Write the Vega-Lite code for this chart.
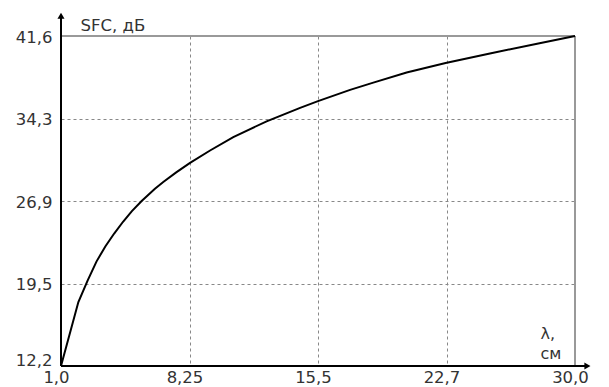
{
  "$schema": "https://vega.github.io/schema/vega-lite/v6.json",
  "width": 514,
  "height": 330,
  "autosize": {"type": "none"},
  "padding": {"left": 61, "top": 36, "right": 34, "bottom": 21},
  "background": "white",
  "config": {"view": {"stroke": null}, "font": "DejaVu Sans"},
  "datasets": {
    "curve": [
      {"x": 1.0, "y": 12.2}, {"x": 1.98, "y": 17.9}, {"x": 2.5, "y": 19.8}, {"x": 3.0, "y": 21.5},
      {"x": 3.5, "y": 22.85}, {"x": 4.0, "y": 24.0}, {"x": 4.5, "y": 25.05}, {"x": 5.0, "y": 26.0},
      {"x": 5.55, "y": 26.9}, {"x": 6.3, "y": 28.0}, {"x": 6.77, "y": 28.6}, {"x": 7.5, "y": 29.45},
      {"x": 8.28, "y": 30.3}, {"x": 9.41, "y": 31.4}, {"x": 10.72, "y": 32.6}, {"x": 12.6, "y": 34.0},
      {"x": 14.49, "y": 35.2}, {"x": 15.5, "y": 35.8}, {"x": 17.31, "y": 36.8}, {"x": 18.62, "y": 37.45},
      {"x": 20.5, "y": 38.35}, {"x": 22.7, "y": 39.2}, {"x": 25.2, "y": 40.05}, {"x": 28.0, "y": 40.95},
      {"x": 30.0, "y": 41.6}
    ],
    "frame": [
      {"x": 1, "x2": 30, "y": 41.6, "y2": 41.6},
      {"x": 30, "x2": 30, "y": 12.2, "y2": 41.6}
    ],
    "axes": [
      {"x": 1, "x2": 1, "y": 12.2, "y2": 43.4},
      {"x": 1, "x2": 30.7, "y": 12.2, "y2": 12.2}
    ],
    "arrows": [
      {"x": 1, "y": 43.4, "shape": "triangle-up"},
      {"x": 30.7, "y": 12.2, "shape": "triangle-right"}
    ]
  },
  "encoding": {
    "x": {
      "field": "x", "type": "quantitative",
      "scale": {"domain": [1, 30], "nice": false, "zero": false},
      "axis": {
        "values": [1, 8.25, 15.5, 22.75, 30],
        "labelExpr": "datum.value < 2 ? '1,0' : datum.value < 9 ? '8,25' : datum.value < 16 ? '15,5' : datum.value < 23 ? '22,7' : '30,0'",
        "domain": false, "ticks": false,
        "grid": true, "gridDash": [3, 3], "gridColor": "#888888", "gridWidth": 1,
        "labelFontSize": 16.5, "labelColor": "#333333", "labelPadding": 3, "labelOffset": -5,
        "labelFlush": false, "labelOverlap": false,
        "title": ["λ,", "см"], "titleFontSize": 16, "titleFontWeight": "normal", "titleColor": "#333333",
        "titleAlign": "left", "titleBaseline": "alphabetic", "titleX": 479, "titleY": -28, "titleLineHeight": 20
      }
    },
    "y": {
      "field": "y", "type": "quantitative",
      "scale": {"domain": [12.2, 41.6], "nice": false, "zero": false},
      "axis": {
        "values": [12.2, 19.55, 26.9, 34.25, 41.6],
        "labelExpr": "datum.value < 13 ? '12,2' : datum.value < 20 ? '19,5' : datum.value < 27 ? '26,9' : datum.value < 35 ? '34,3' : '41,6'",
        "domain": false, "ticks": false,
        "grid": true, "gridDash": [3, 3], "gridColor": "#888888", "gridWidth": 1,
        "labelFontSize": 16.5, "labelColor": "#333333", "labelPadding": 9,
        "labelOffset": {"condition": {"test": "datum.value < 13", "value": -6}, "value": 1},
        "labelFlush": false, "labelOverlap": false,
        "title": "SFC, дБ", "titleFontSize": 16.5, "titleFontWeight": "normal", "titleColor": "#333333",
        "titleAngle": 0, "titleAlign": "left", "titleBaseline": "alphabetic", "titleX": 19, "titleY": -6
      }
    }
  },
  "layer": [
    {
      "data": {"name": "frame"},
      "mark": {"type": "rule", "color": "#999999", "strokeWidth": 2},
      "encoding": {"x2": {"field": "x2"}, "y2": {"field": "y2"}}
    },
    {
      "data": {"name": "axes"},
      "mark": {"type": "rule", "color": "black", "strokeWidth": 2},
      "encoding": {"x2": {"field": "x2"}, "y2": {"field": "y2"}}
    },
    {
      "data": {"name": "curve"},
      "mark": {"type": "line", "color": "black", "strokeWidth": 2},
      "encoding": {}
    },
    {
      "data": {"name": "arrows"},
      "mark": {"type": "point", "filled": true, "color": "black", "opacity": 1, "size": 50},
      "encoding": {
        "shape": {"field": "shape", "type": "nominal", "scale": null, "legend": null}
      }
    }
  ]
}
